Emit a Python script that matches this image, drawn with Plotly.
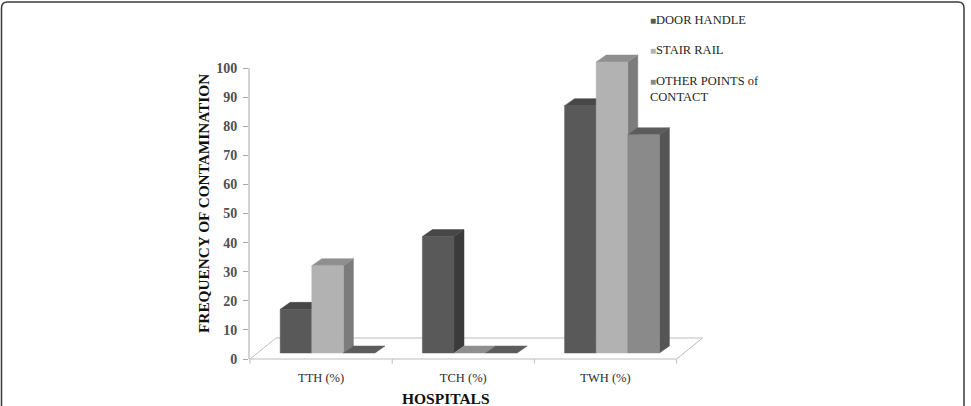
import plotly.graph_objects as go

# ---------------- data ----------------
categories = ["TTH (%)", "TCH (%)", "TWH (%)"]
series_names = ["DOOR HANDLE", "STAIR RAIL", "OTHER POINTS of<br>CONTACT"]
door_handle = [15, 40, 85]
stair_rail = [30, 0, 100]
other_points = [0, 0, 75]
y_ticks = [0, 10, 20, 30, 40, 50, 60, 70, 80, 90, 100]

series_values = [door_handle, stair_rail, other_points]
# (front, top, side) colours
face_colors = [
    ("#595959", "#474747", "#3b3b3b"),
    ("#b2b2b2", "#8f8f8f", "#7c7c7c"),
    ("#8a8a8a", "#5c5c5c", "#555555"),
]

# ---------------- geometry (pixels -> data units) ----------------
W_FIG, H_FIG = 971, 406
L, R, T, B = 249, 716, 40, 365          # plot area in pixels
PXU = 142.2                              # pixels per category unit
PYU = 2.91                               # pixels per value unit
Y0_PIX = 359                             # pixel of value 0
X0 = -0.5 - (250 - L) / PXU
X1 = X0 + (R - L) / PXU
Y0 = -(B - Y0_PIX) / PYU
Y1 = (Y0_PIX - T) / PYU

bar_w = 31.6 / PXU
front_dx, front_dy = 6.5 / PXU, 6 / PYU
depth_dx, depth_dy = 10 / PXU, 7 / PYU
floor_dx, floor_dy = 26 / PXU, 21 / PYU


def px2paper_x(px):
    return (px - L) / (R - L)


def px2paper_y(py):
    return (B - py) / (B - T)


fig = go.Figure()

# floor
n = len(categories)
fx = [-0.5, n - 0.5, n - 0.5 + floor_dx, -0.5 + floor_dx, -0.5]
fy = [0, 0, floor_dy, floor_dy, 0]
fig.add_trace(go.Scatter(x=fx, y=fy, mode="lines", fill="toself",
                         fillcolor="white", line=dict(color="#bdbdbd", width=1),
                         hoverinfo="skip", showlegend=False))
# category boundary ticks under floor front edge
tx, ty = [], []
for k in range(n + 1):
    tx += [k - 0.5, k - 0.5, None]
    ty += [0, -1.6, None]
fig.add_trace(go.Scatter(x=tx, y=ty, mode="lines",
                         line=dict(color="#bdbdbd", width=1),
                         hoverinfo="skip", showlegend=False))

# 3-D looking bars
for s, vals in enumerate(series_values):
    front_c, top_c, side_c = face_colors[s]
    sx, sy, tpx, tpy, frx, fry = [], [], [], [], [], []
    for c, v in enumerate(vals):
        xl = c - 1.5 * bar_w + s * bar_w + front_dx
        xr = xl + bar_w
        yb = front_dy
        yt = yb + v
        if v > 0:
            sx += [xr, xr + depth_dx, xr + depth_dx, xr, xr, None]
            sy += [yb, yb + depth_dy, yt + depth_dy, yt, yb, None]
            frx += [xl, xr, xr, xl, xl, None]
            fry += [yb, yb, yt, yt, yb, None]
        tpx += [xl, xr, xr + depth_dx, xl + depth_dx, xl, None]
        tpy += [yt, yt, yt + depth_dy, yt + depth_dy, yt, None]
    for xs, ys, col in ((sx, sy, side_c), (tpx, tpy, top_c), (frx, fry, front_c)):
        if xs:
            fig.add_trace(go.Scatter(x=xs, y=ys, mode="lines", fill="toself",
                                     fillcolor=col, line=dict(color=col, width=0.5),
                                     hoverinfo="skip", showlegend=False))

# legend as text annotations (square glyph + name)
legend_y = [20, 50, 89]
for s, name in enumerate(series_names):
    fig.add_annotation(
        xref="paper", yref="paper", x=px2paper_x(648), y=px2paper_y(legend_y[s]),
        xanchor="left", yanchor="middle", align="left", showarrow=False,
        text=f"<span style='color:{face_colors[s][0]};font-size:10px'>■</span>{name}",
        font=dict(family="Liberation Serif", size=12.5, color="#1f1f1f"))

# axis titles
fig.add_annotation(xref="paper", yref="paper", x=px2paper_x(446), y=px2paper_y(398),
                   xanchor="center", yanchor="middle", showarrow=False,
                   text="HOSPITALS",
                   font=dict(family="Liberation Serif", size=15.5, color="#111111", weight="bold"))
fig.add_annotation(xref="paper", yref="paper", x=px2paper_x(203), y=px2paper_y(204),
                   xanchor="center", yanchor="middle", showarrow=False, textangle=-90,
                   text="FREQUENCY OF CONTAMINATION",
                   font=dict(family="Liberation Serif", size=15.3, color="#111111", weight="bold"))

# y axis line (0..100) and frame
fig.add_shape(type="line", xref="paper", yref="y", x0=0, x1=0, y0=0, y1=max(y_ticks),
              line=dict(color="#a6a6a6", width=1))
r = 6
fx0, fx1 = px2paper_x(1.5), px2paper_x(964)
fy0, fy1 = px2paper_y(2), px2paper_y(440)
rx, ry = r / (R - L), r / (B - T)
path = (f"M {fx0 + rx},{fy0} L {fx1 - rx},{fy0} Q {fx1},{fy0} {fx1},{fy0 - ry} "
        f"L {fx1},{fy1} L {fx0},{fy1} L {fx0},{fy0 - ry} Q {fx0},{fy0} {fx0 + rx},{fy0} Z")
fig.add_shape(type="path", xref="paper", yref="paper", path=path,
              line=dict(color="#3a3a3a", width=1.5))

fig.update_layout(
    width=W_FIG, height=H_FIG,
    margin=dict(l=L, r=W_FIG - R, t=T, b=H_FIG - B),
    paper_bgcolor="white", plot_bgcolor="white",
    showlegend=False,
    xaxis=dict(range=[X0, X1], tickvals=list(range(n)), ticktext=categories,
               showgrid=False, zeroline=False, showline=False, ticks="",
               ticklabelstandoff=3,
               tickfont=dict(family="Liberation Serif", size=12.5, color="#2b2b2b")),
    yaxis=dict(range=[Y0, Y1], tickvals=y_ticks, showgrid=False, zeroline=False,
               showline=False, ticks="outside", ticklen=5, tickcolor="#a6a6a6",
               ticklabelstandoff=3,
               tickfont=dict(family="Liberation Serif", size=14, color="#505050",
                             weight="bold")),
)

fig.write_html("out.html")
